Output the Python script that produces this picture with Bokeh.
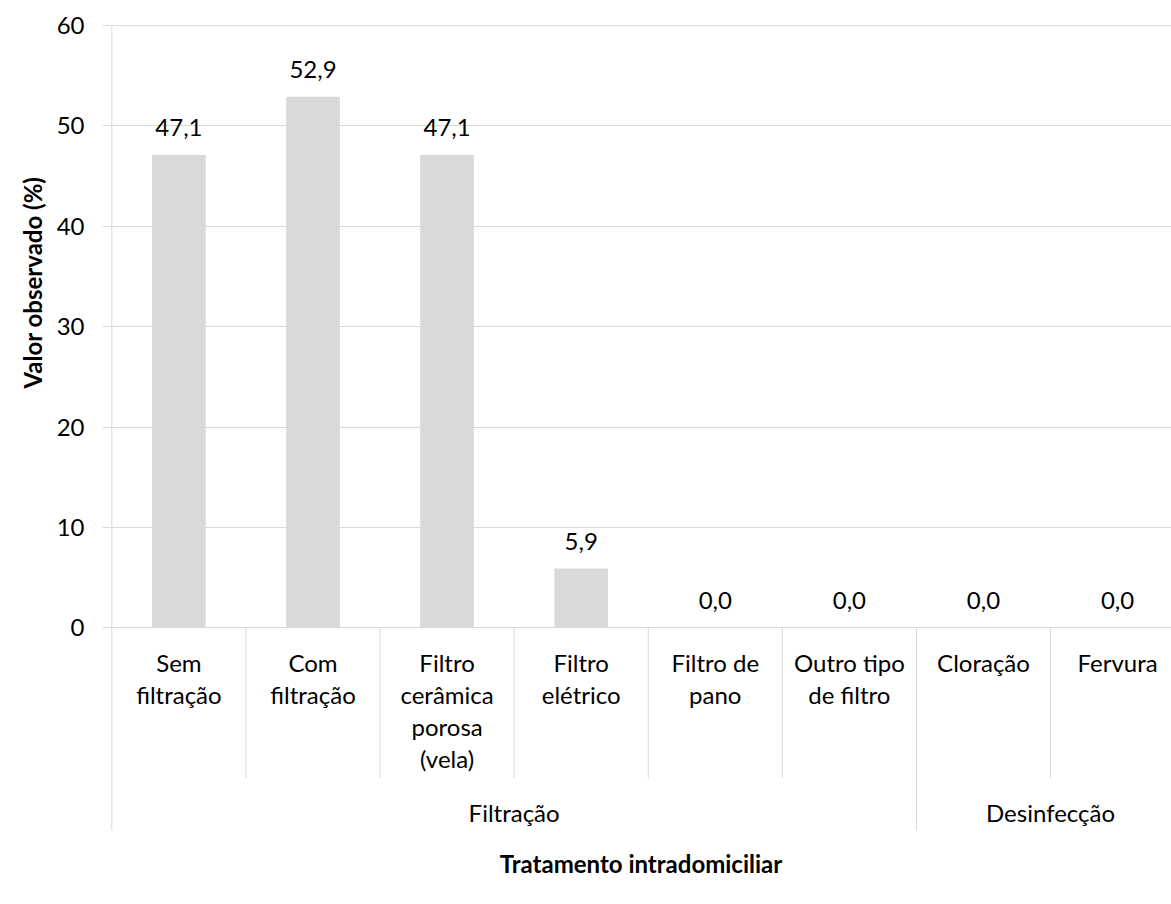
from bokeh.plotting import figure
from bokeh.models import Range1d, FixedTicker, Title
from bokeh.core.properties import value
from bokeh.embed import file_html
from bokeh.resources import INLINE

categories = ["Sem\nfiltração", "Com\nfiltração", "Filtro\ncerâmica\nporosa\n(vela)",
              "Filtro\nelétrico", "Filtro de\npano", "Outro tipo\nde filtro",
              "Cloração", "Fervura"]
values = [47.1, 52.9, 47.1, 5.9, 0.0, 0.0, 0.0, 0.0]
groups = ["Filtração", "Desinfecção"]
group_sizes = [6, 2]
y_ticks = [0, 10, 20, 30, 40, 50, 60]
y_title = "Valor observado (%)"
x_title = "Tratamento intradomiciliar"

FONT = "Lato"
GRAY = "#D9D9D9"
FS = "24px"

n = len(categories)
centers = [i + 0.5 for i in range(n)]
labels = [f"{v:.1f}".replace(".", ",") for v in values]

X0, X1 = -0.01, 7.902
Y0, Y1 = -20.2, 60.3

p = figure(width=1171, height=900, output_backend="svg", toolbar_location=None,
           x_range=Range1d(X0, X1), y_range=Range1d(Y0, Y1),
           min_border_left=110, min_border_right=0, min_border_top=22,
           min_border_bottom=70)
p.outline_line_color = None
p.background_fill_color = "white"
p.border_fill_color = "white"
p.xgrid.visible = False
p.ygrid.ticker = FixedTicker(ticks=y_ticks)
p.ygrid.grid_line_color = GRAY
p.ygrid.grid_line_width = 1

ya = p.yaxis[0]
ya.ticker = FixedTicker(ticks=y_ticks)
ya.axis_line_color = None
ya.major_tick_out = 8
ya.major_tick_in = 0
ya.major_tick_line_color = GRAY
ya.minor_tick_line_color = None
ya.major_label_standoff = 18
ya.major_label_text_font = FONT
ya.major_label_text_font_size = FS
ya.major_label_text_color = "#000000"

xa = p.xaxis[0]
xa.ticker = FixedTicker(ticks=[])
xa.axis_line_color = None
xa.major_tick_line_color = None
xa.minor_tick_line_color = None
xa.major_label_text_font_size = "0px"
xa.axis_label = x_title
xa.axis_label_text_font = FONT
xa.axis_label_text_font_size = FS
xa.axis_label_text_font_style = "bold"
xa.axis_label_text_color = "#000000"
xa.axis_label_standoff = 18

# y title (placed along the 0-60 part of the value axis)
p.add_layout(Title(text=y_title, align="left", offset=442, standoff=13,
                   text_font=FONT, text_font_size=FS, text_font_style="bold",
                   text_color="#000000"), "left")

# bars
p.vbar(x=centers, top=values, bottom=0, width=0.40, fill_color=GRAY, line_color=None)

# value labels
p.text(x=centers, y=values, text=labels, y_offset=-27, text_align="center",
       text_baseline="alphabetic", text_font=value(FONT), text_font_size=FS,
       text_color="#000000")

# separators
bounds = [0]
for s in group_sizes:
    bounds.append(bounds[-1] + s)
sx, sy0, sy1 = [], [], []
for i in range(n):
    sx.append(i)
    sy0.append(Y0 if i in bounds else -15)
    sy1.append(60 if i == 0 else 0)
p.segment(x0=sx, y0=sy0, x1=sx, y1=sy1, line_color=GRAY, line_width=1)

# category labels
p.text(x=centers, y=-2.0, text=categories, text_align="center", text_baseline="top",
       text_line_height=1.11, text_font=value(FONT), text_font_size=FS,
       text_color="#000000")

# group labels
gcenters = [(bounds[i] + bounds[i + 1]) / 2 for i in range(len(groups))]
p.text(x=gcenters, y=-18.45, text=groups, text_align="center", text_baseline="middle",
       text_font=value(FONT), text_font_size=FS, text_color="#000000")

open("out.html", "w").write(file_html(p, INLINE))
